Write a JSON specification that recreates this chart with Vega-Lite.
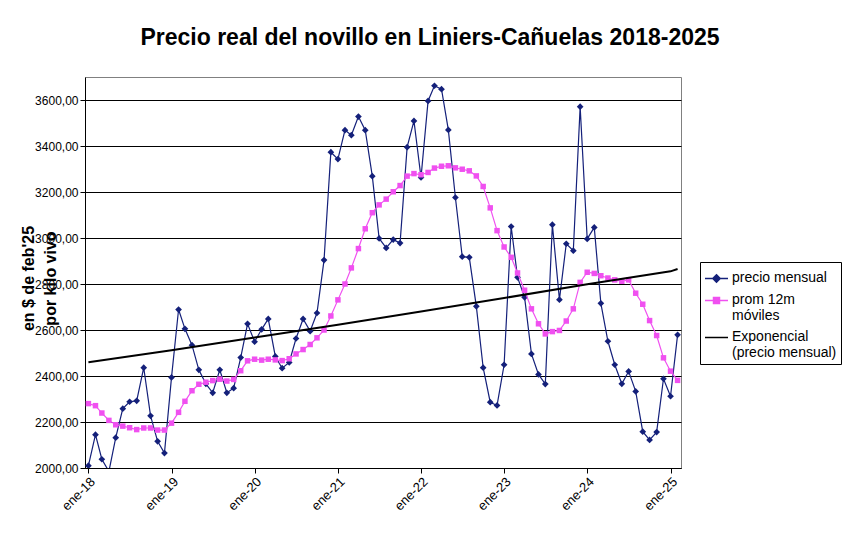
{
 "$schema": "https://vega.github.io/schema/vega-lite/v6.json",
 "width": 596, "height": 391,
 "autosize": {"type": "none"},
 "padding": {"left": 85, "top": 77, "right": 176, "bottom": 66},
 "background": "white",
 "config": {"font": "Liberation Sans", "view": {"stroke": "#808080", "strokeWidth": 1}},
 "title": {"text": "Precio real del novillo en Liniers-Cañuelas 2018-2025", "fontSize": 23, "fontWeight": "bold", "color": "#000", "anchor": "middle", "dx": 47, "offset": 9, "baseline": "alphabetic"},
 "data": {"format": {"parse": {"fecha": "date"}}, "values": [
  {"fecha":"2018-01-01","precio":2010,"prom":2280,"tend":2460},{"fecha":"2018-02-01","precio":2145,"prom":2271},{"fecha":"2018-03-01","precio":2038,"prom":2239},{"fecha":"2018-04-01","precio":1985,"prom":2207},{"fecha":"2018-05-01","precio":2132,"prom":2188},{"fecha":"2018-06-01","precio":2258,"prom":2182},{"fecha":"2018-07-01","precio":2288,"prom":2175},{"fecha":"2018-08-01","precio":2292,"prom":2167},{"fecha":"2018-09-01","precio":2436,"prom":2174},{"fecha":"2018-10-01","precio":2227,"prom":2174},{"fecha":"2018-11-01","precio":2116,"prom":2165},{"fecha":"2018-12-01","precio":2065,"prom":2165},
  {"fecha":"2019-01-01","precio":2394,"prom":2195,"tend":2512},{"fecha":"2019-02-01","precio":2689,"prom":2242},{"fecha":"2019-03-01","precio":2605,"prom":2290},{"fecha":"2019-04-01","precio":2534,"prom":2336},{"fecha":"2019-05-01","precio":2427,"prom":2364},{"fecha":"2019-06-01","precio":2366,"prom":2373},{"fecha":"2019-07-01","precio":2327,"prom":2380},{"fecha":"2019-08-01","precio":2427,"prom":2386},{"fecha":"2019-09-01","precio":2327,"prom":2378},{"fecha":"2019-10-01","precio":2347,"prom":2385},{"fecha":"2019-11-01","precio":2480,"prom":2423},{"fecha":"2019-12-01","precio":2627,"prom":2466},
  {"fecha":"2020-01-01","precio":2549,"prom":2473,"tend":2567},{"fecha":"2020-02-01","precio":2603,"prom":2469},{"fecha":"2020-03-01","precio":2648,"prom":2473},{"fecha":"2020-04-01","precio":2485,"prom":2470},{"fecha":"2020-05-01","precio":2434,"prom":2467},{"fecha":"2020-06-01","precio":2459,"prom":2475},{"fecha":"2020-07-01","precio":2563,"prom":2496},{"fecha":"2020-08-01","precio":2648,"prom":2515},{"fecha":"2020-09-01","precio":2595,"prom":2537},{"fecha":"2020-10-01","precio":2674,"prom":2566},{"fecha":"2020-11-01","precio":2904,"prom":2600},{"fecha":"2020-12-01","precio":3373,"prom":2661},
  {"fecha":"2021-01-01","precio":3343,"prom":2731,"tend":2623},{"fecha":"2021-02-01","precio":3469,"prom":2800},{"fecha":"2021-03-01","precio":3447,"prom":2870},{"fecha":"2021-04-01","precio":3528,"prom":2954},{"fecha":"2021-05-01","precio":3469,"prom":3040},{"fecha":"2021-06-01","precio":3269,"prom":3110},{"fecha":"2021-07-01","precio":2998,"prom":3144},{"fecha":"2021-08-01","precio":2957,"prom":3169},{"fecha":"2021-09-01","precio":2993,"prom":3201},{"fecha":"2021-10-01","precio":2978,"prom":3228},{"fecha":"2021-11-01","precio":3395,"prom":3269},{"fecha":"2021-12-01","precio":3509,"prom":3280},
  {"fecha":"2022-01-01","precio":3263,"prom":3275,"tend":2680},{"fecha":"2022-02-01","precio":3596,"prom":3285},{"fecha":"2022-03-01","precio":3662,"prom":3304},{"fecha":"2022-04-01","precio":3647,"prom":3312},{"fecha":"2022-05-01","precio":3470,"prom":3314},{"fecha":"2022-06-01","precio":3176,"prom":3305},{"fecha":"2022-07-01","precio":2919,"prom":3299},{"fecha":"2022-08-01","precio":2916,"prom":3292},{"fecha":"2022-09-01","precio":2703,"prom":3270},{"fecha":"2022-10-01","precio":2436,"prom":3224},{"fecha":"2022-11-01","precio":2286,"prom":3131},{"fecha":"2022-12-01","precio":2272,"prom":3032},
  {"fecha":"2023-01-01","precio":2449,"prom":2961,"tend":2739},{"fecha":"2023-02-01","precio":3050,"prom":2916},{"fecha":"2023-03-01","precio":2829,"prom":2848},{"fecha":"2023-04-01","precio":2742,"prom":2773},{"fecha":"2023-05-01","precio":2496,"prom":2692},{"fecha":"2023-06-01","precio":2407,"prom":2627},{"fecha":"2023-07-01","precio":2365,"prom":2583},{"fecha":"2023-08-01","precio":3058,"prom":2593},{"fecha":"2023-09-01","precio":2732,"prom":2598},{"fecha":"2023-10-01","precio":2975,"prom":2639},{"fecha":"2023-11-01","precio":2945,"prom":2692},{"fecha":"2023-12-01","precio":3571,"prom":2807},
  {"fecha":"2024-01-01","precio":2996,"prom":2851,"tend":2799},{"fecha":"2024-02-01","precio":3046,"prom":2846},{"fecha":"2024-03-01","precio":2716,"prom":2836},{"fecha":"2024-04-01","precio":2551,"prom":2826},{"fecha":"2024-05-01","precio":2449,"prom":2818},{"fecha":"2024-06-01","precio":2366,"prom":2812},{"fecha":"2024-07-01","precio":2420,"prom":2818},{"fecha":"2024-08-01","precio":2333,"prom":2760},{"fecha":"2024-09-01","precio":2158,"prom":2712},{"fecha":"2024-10-01","precio":2122,"prom":2641},{"fecha":"2024-11-01","precio":2156,"prom":2576},{"fecha":"2024-12-01","precio":2388,"prom":2479},
  {"fecha":"2025-01-01","precio":2312,"prom":2421,"tend":2855},{"fecha":"2025-02-01","precio":2579,"prom":2381,"tend":2865}
 ]},
 "transform": [{"fold": ["precio", "prom", "tend"], "as": ["serie", "valor"]}, {"filter": "isValid(datum.valor)"}],
 "encoding": {
  "x": {"field": "fecha", "type": "temporal",
   "scale": {"type": "utc", "domain": [{"year": 2017, "month": 12, "date": 17, "utc": true}, {"year": 2025, "month": 2, "date": 16, "utc": true}]},
   "axis": {"title": null, "grid": false,
    "values": [{"year":2018,"month":1,"date":1,"utc":true},{"year":2019,"month":1,"date":1,"utc":true},{"year":2020,"month":1,"date":1,"utc":true},{"year":2021,"month":1,"date":1,"utc":true},{"year":2022,"month":1,"date":1,"utc":true},{"year":2023,"month":1,"date":1,"utc":true},{"year":2024,"month":1,"date":1,"utc":true},{"year":2025,"month":1,"date":1,"utc":true}],
    "labelExpr": "'ene-' + utcFormat(datum.value, '%y')",
    "labelAngle": -45, "labelFontSize": 13, "labelColor": "#000", "domainColor": "#000", "tickColor": "#000", "tickSize": 5}},
  "y": {"field": "valor", "type": "quantitative",
   "scale": {"domain": [2000, 3700], "nice": false, "zero": false},
   "axis": {"values": [2000, 2200, 2400, 2600, 2800, 3000, 3200, 3400, 3600],
    "labelExpr": "replace(format(datum.value, '.2f'), '.', ',')",
    "grid": true, "gridColor": "#000", "gridWidth": 1, "domainColor": "#000", "tickColor": "#000", "tickSize": 5,
    "labelFontSize": 12, "labelColor": "#000", "labelPadding": 2,
    "title": ["en $ de feb'25", "por kilo vivo"], "titleFontSize": 16, "titleFontWeight": "bold", "titleColor": "#000",
    "titleLineHeight": 22, "titleAngle": -90, "titleX": -57, "titleY": 201, "titleAlign": "center", "titleBaseline": "middle"}}
 },
 "layer": [
  {"transform": [{"filter": "datum.serie === 'precio'"}],
   "mark": {"type": "line", "strokeWidth": 1.2, "clip": true, "point": {"filled": true, "shape": "diamond", "size": 45}},
   "encoding": {"color": {"datum": "precio mensual", "type": "nominal",
     "scale": {"domain": ["precio mensual", "prom 12m móviles", "Exponencial (precio mensual)"], "range": ["#14207a", "#f050f0", "#000000"]},
     "legend": {"title": null, "orient": "none", "legendX": 615, "legendY": 185,
      "strokeColor": "#000", "fillColor": "#fff", "padding": 4,
      "labelFontSize": 14, "labelColor": "#000", "labelOffset": 3, "labelLimit": 200,
      "symbolSize": 529, "symbolStrokeWidth": 1.5, "rowPadding": 2,
      "labelExpr": "datum.label === 'prom 12m móviles' ? ['prom 12m', 'móviles'] : datum.label === 'Exponencial (precio mensual)' ? ['Exponencial', '(precio mensual)'] : datum.label",
      "encode": {
       "symbols": {"update": {
        "shape": {"signal": "datum.value === 'precio mensual' ? 'M-1,0H1M0,-0.32L0.32,0L0,0.32L-0.32,0Z' : datum.value === 'prom 12m móviles' ? 'M-1,0H1M-0.26,-0.26H0.26V0.26H-0.26Z' : 'M-1,0H1'"},
        "fill": {"signal": "scale('color', datum.value)"},
        "stroke": {"signal": "scale('color', datum.value)"},
        "opacity": {"value": 1}}},
       "labels": {"update": {"baseline": {"value": "top"}, "dy": {"value": -8}}}
      }}}}},
  {"transform": [{"filter": "datum.serie === 'prom'"}],
   "mark": {"type": "line", "strokeWidth": 1.2, "clip": true, "point": {"filled": true, "shape": "square", "size": 30}},
   "encoding": {"color": {"datum": "prom 12m móviles", "type": "nominal"}}},
  {"transform": [{"filter": "datum.serie === 'tend'"}],
   "mark": {"type": "line", "strokeWidth": 2, "clip": true},
   "encoding": {"color": {"datum": "Exponencial (precio mensual)", "type": "nominal"}}}
 ]
}
